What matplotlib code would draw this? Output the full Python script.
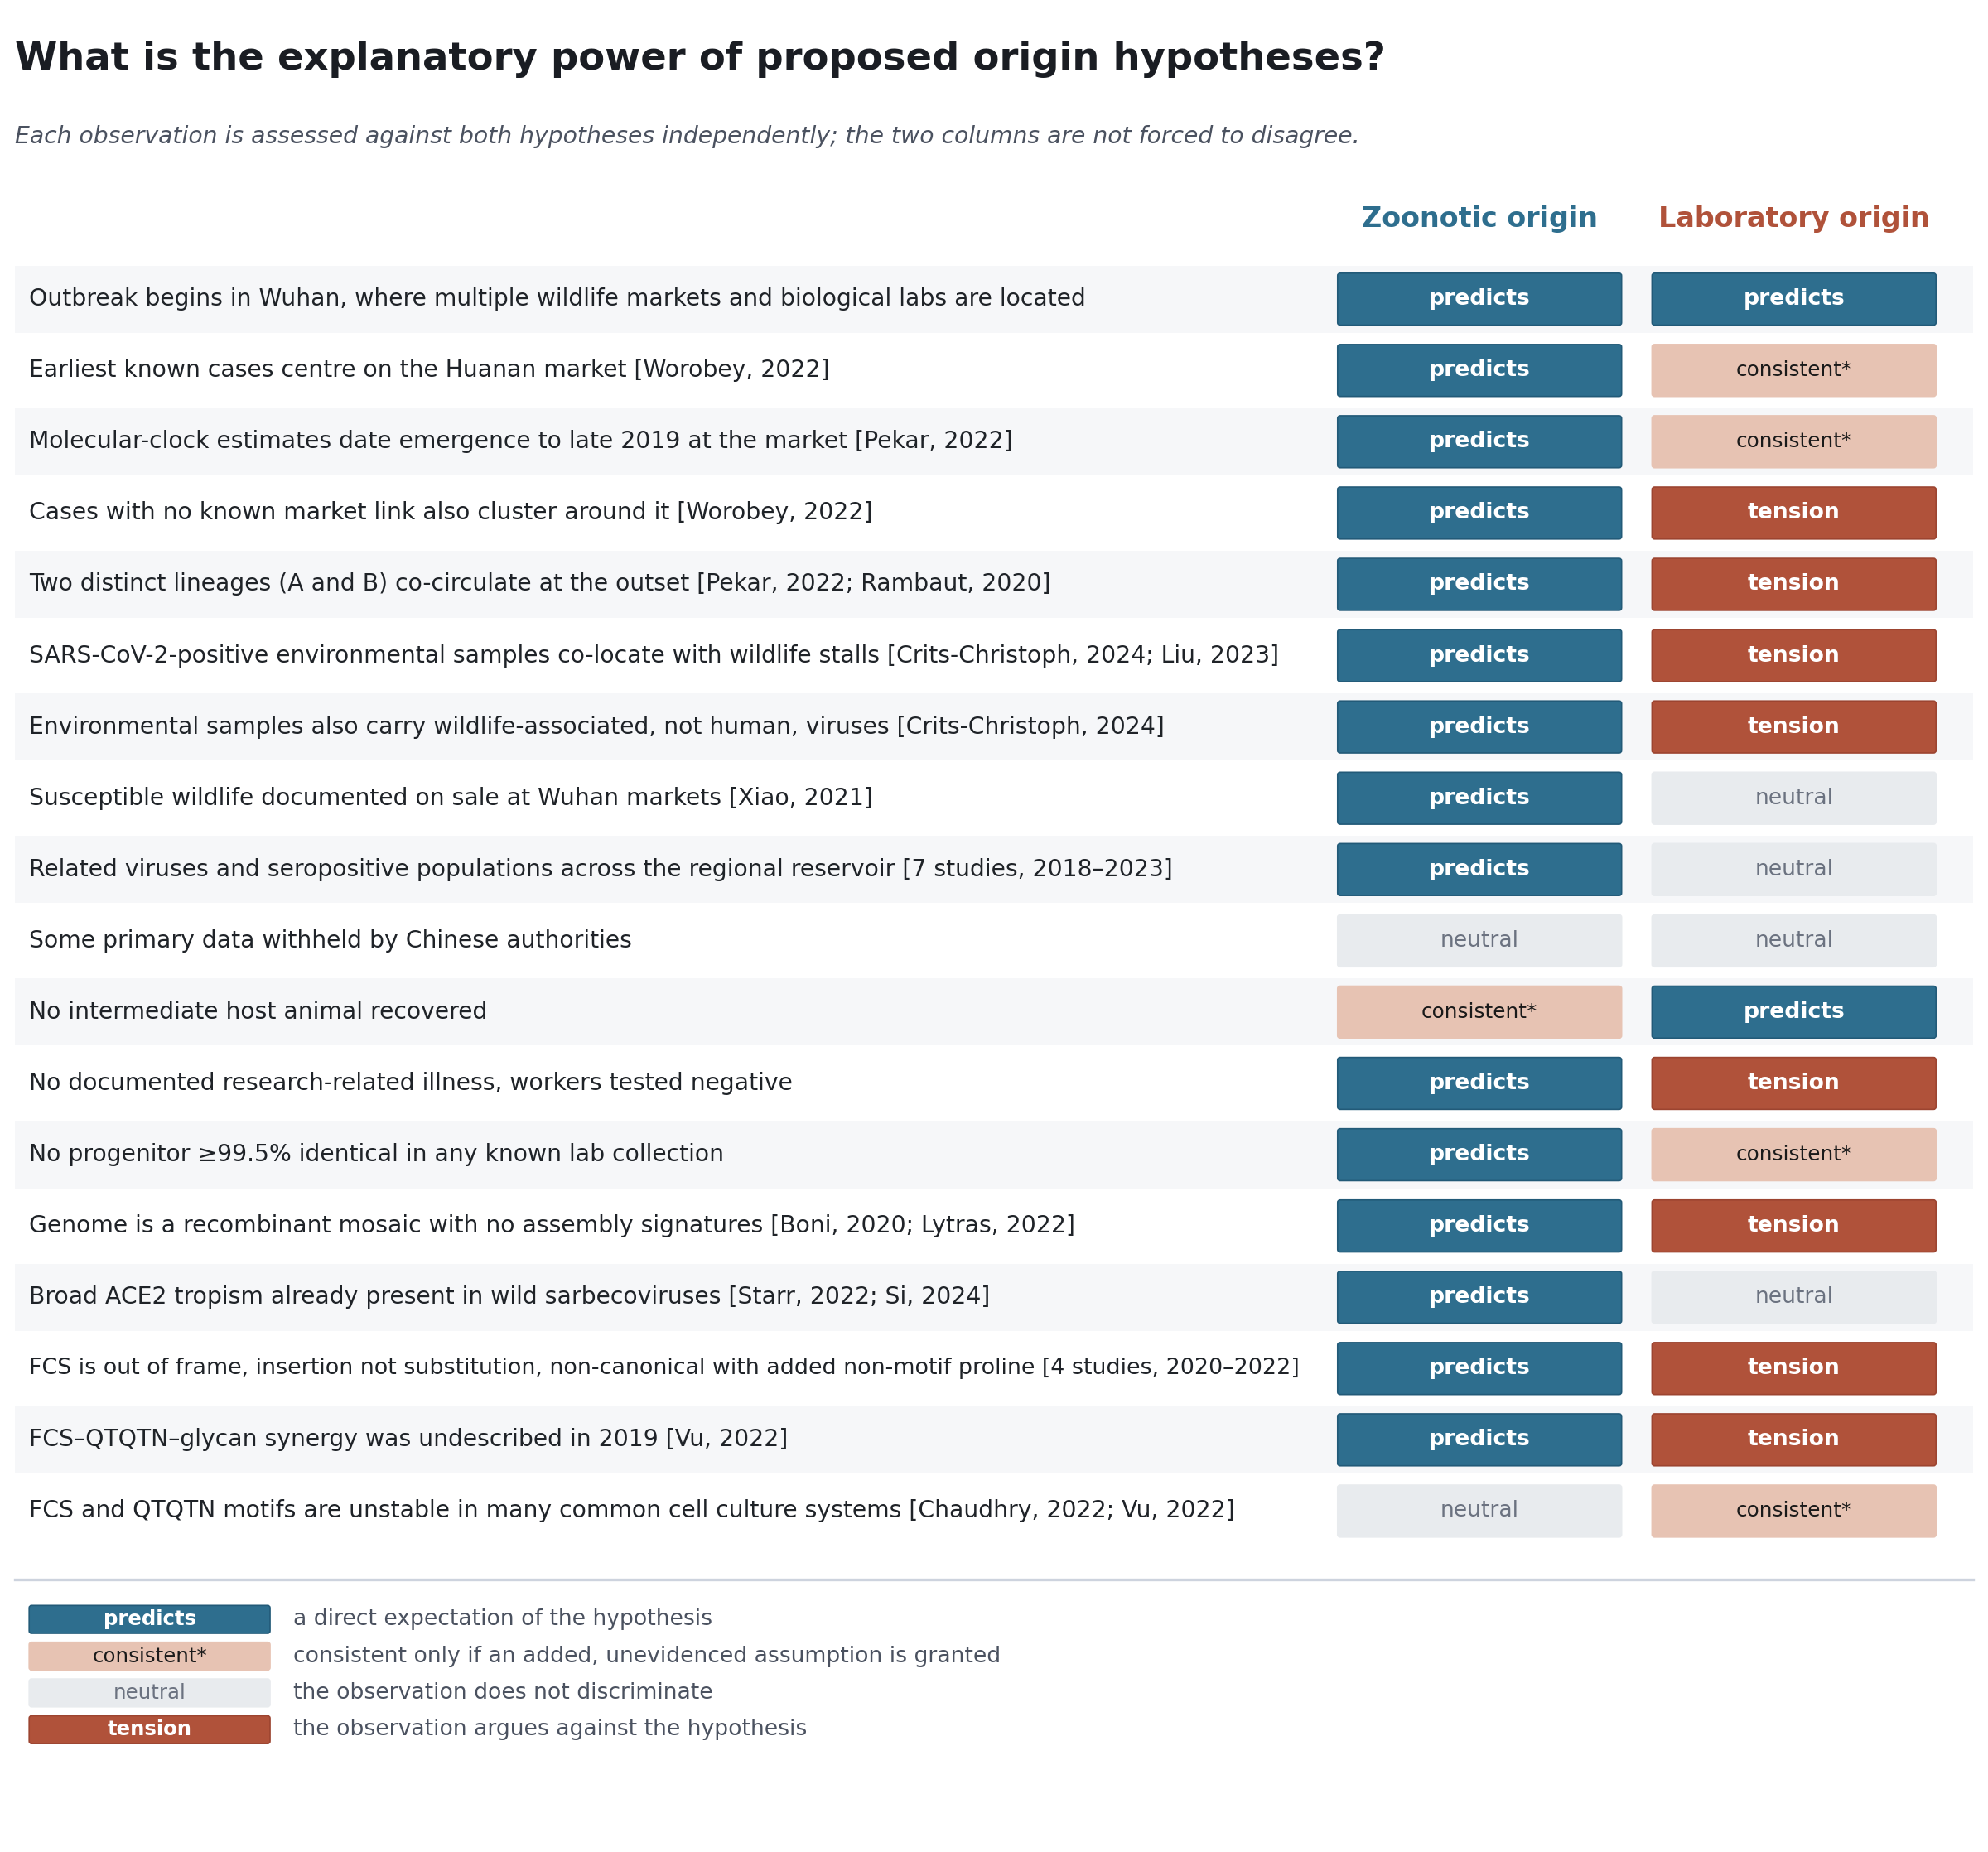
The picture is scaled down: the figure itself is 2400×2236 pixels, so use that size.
import matplotlib
matplotlib.use("Agg")
import matplotlib.pyplot as plt
from matplotlib.patches import FancyBboxPatch, Rectangle

TITLE = "What is the explanatory power of proposed origin hypotheses?"
SUBTITLE = ("Each observation is assessed against both hypotheses independently; "
            "the two columns are not forced to disagree.")
HYPOTHESES = ["Zoonotic origin", "Laboratory origin"]

OBSERVATIONS = [
    "Outbreak begins in Wuhan, where multiple wildlife markets and biological labs are located",
    "Earliest known cases centre on the Huanan market [Worobey, 2022]",
    "Molecular-clock estimates date emergence to late 2019 at the market [Pekar, 2022]",
    "Cases with no known market link also cluster around it [Worobey, 2022]",
    "Two distinct lineages (A and B) co-circulate at the outset [Pekar, 2022; Rambaut, 2020]",
    "SARS-CoV-2-positive environmental samples co-locate with wildlife stalls [Crits-Christoph, 2024; Liu, 2023]",
    "Environmental samples also carry wildlife-associated, not human, viruses [Crits-Christoph, 2024]",
    "Susceptible wildlife documented on sale at Wuhan markets [Xiao, 2021]",
    "Related viruses and seropositive populations across the regional reservoir [7 studies, 2018\u20132023]",
    "Some primary data withheld by Chinese authorities",
    "No intermediate host animal recovered",
    "No documented research-related illness, workers tested negative",
    "No progenitor \u226599.5% identical in any known lab collection",
    "Genome is a recombinant mosaic with no assembly signatures [Boni, 2020; Lytras, 2022]",
    "Broad ACE2 tropism already present in wild sarbecoviruses [Starr, 2022; Si, 2024]",
    "FCS is out of frame, insertion not substitution, non-canonical with added non-motif proline [4 studies, 2020\u20132022]",
    "FCS\u2013QTQTN\u2013glycan synergy was undescribed in 2019 [Vu, 2022]",
    "FCS and QTQTN motifs are unstable in many common cell culture systems [Chaudhry, 2022; Vu, 2022]",
]

ZOONOTIC = [
    "predicts", "predicts", "predicts", "predicts", "predicts", "predicts",
    "predicts", "predicts", "predicts", "neutral", "consistent*", "predicts",
    "predicts", "predicts", "predicts", "predicts", "predicts", "neutral",
]
LABORATORY = [
    "predicts", "consistent*", "consistent*", "tension", "tension", "tension",
    "tension", "neutral", "neutral", "neutral", "predicts", "tension",
    "consistent*", "tension", "neutral", "tension", "tension", "consistent*",
]

LEGEND_LABELS = ["predicts", "consistent*", "neutral", "tension"]
LEGEND_TEXT = [
    "a direct expectation of the hypothesis",
    "consistent only if an added, unevidenced assumption is granted",
    "the observation does not discriminate",
    "the observation argues against the hypothesis",
]

BLUE = "#2e6e8e"
RUST = "#b0523a"
STYLES = {
    "predicts": dict(face=BLUE, edge="#225a78", text="white", weight="bold", scale=1.0),
    "consistent*": dict(face="#e7c3b3", edge="#e7c3b3", text="#1a1a1a", weight="normal", scale=0.93),
    "neutral": dict(face="#e8ebee", edge="#e8ebee", text="#6b7280", weight="normal", scale=1.0),
    "tension": dict(face=RUST, edge="#9c4430", text="white", weight="bold", scale=1.0),
}

# layout in reference units (canvas 1568 x 1461)
W, H = 1568, 1461
ROW0, PITCH = 236, 56.24
BAND_H, BADGE_H = 53, 41
COL_X = [1055, 1303]
BADGE_W = 224
ROW_FONT = 10.17
TEXT_RIGHT_LIMIT = 1023


def badge(ax, x0, yc, w, h, label, fontsize, scale_text=True):
    st = STYLES[label]
    ax.add_patch(FancyBboxPatch((x0, yc - h / 2), w, h,
                                boxstyle="round,pad=0,rounding_size=2",
                                facecolor=st["face"], edgecolor=st["edge"],
                                linewidth=0.6))
    size = fontsize * st["scale"] if scale_text else fontsize
    ax.text(x0 + w / 2, yc, label, ha="center", va="center", color=st["text"],
            fontsize=size, fontweight=st["weight"])


def main() -> int:
    fig = plt.figure(figsize=(12, 11.18), dpi=200)
    ax = fig.add_axes([0, 0, 1, 1])
    ax.set_xlim(0, W)
    ax.set_ylim(H, 0)
    ax.axis("off")
    fig.canvas.draw()
    renderer = fig.canvas.get_renderer()

    ax.text(12, 47, TITLE, ha="left", va="center", fontsize=16.75, fontweight="bold",
            color="#1a1d23")
    ax.text(12, 108, SUBTITLE, ha="left", va="center", fontsize=10.2,
            fontstyle="italic", color="#4b5260")

    for x0, name, color in zip(COL_X, HYPOTHESES, [BLUE, RUST]):
        ax.text(x0 + BADGE_W / 2, 173, name, ha="center", va="center",
                fontsize=12, fontweight="bold", color=color)

    for i, (obs, zoo, lab) in enumerate(zip(OBSERVATIONS, ZOONOTIC, LABORATORY)):
        yc = ROW0 + i * PITCH
        if i % 2 == 0:
            ax.add_patch(Rectangle((12, yc - BAND_H / 2), 1544, BAND_H,
                                   facecolor="#f6f7f9", edgecolor="none"))
        t = ax.text(23, yc, obs, ha="left", va="center", fontsize=ROW_FONT,
                    color="#1f2328")
        # shrink long labels so they stay clear of the badges
        bb = t.get_window_extent(renderer)
        right = ax.transData.inverted().transform((bb.x1, 0))[0]
        if right > TEXT_RIGHT_LIMIT:
            t.set_fontsize(ROW_FONT * (TEXT_RIGHT_LIMIT - 23) / (right - 23))
        for x0, label in zip(COL_X, [zoo, lab]):
            badge(ax, x0, yc, BADGE_W, BADGE_H, label, 9.6)

    ax.plot([12, 1556], [1246, 1246], color="#cdd3de", linewidth=1.2)

    for j, (label, desc) in enumerate(zip(LEGEND_LABELS, LEGEND_TEXT)):
        yc = 1277.5 + j * 29
        badge(ax, 23, yc, 190, 22, label, 8.8, scale_text=False)
        ax.text(231, yc, desc, ha="left", va="center", fontsize=9.6, color="#4b5260")

    fig.savefig("out.png", dpi=200, facecolor="white")
    plt.close(fig)
    return 0


if __name__ == "__main__":
    raise SystemExit(main())
